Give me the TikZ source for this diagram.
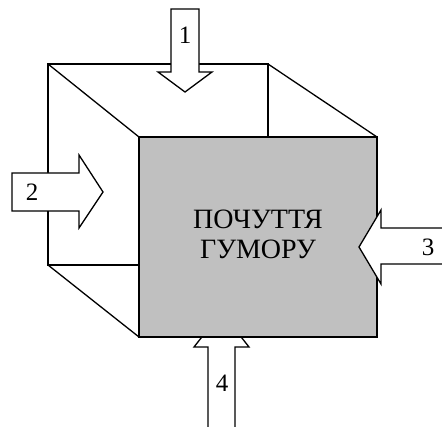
\documentclass[tikz,border=0pt]{standalone}
\usepackage{fontspec}
\setmainfont{Liberation Serif}
\usetikzlibrary{calc, positioning}

\begin{document}
\begin{tikzpicture}[x=1pt, y=-1pt, line width=1.3pt, line join=miter]
				\tikzstyle{face} = [draw=black]
				\tikzstyle{front} = [draw=black, fill={rgb,255:red,192;green,192;blue,192}]
				\tikzstyle{blockarrow} = [draw=black, fill=white]
				\tikzstyle{invis} = [draw=none, font=\fontsize{25}{30}\selectfont]
				
				\useasboundingbox[fill=white] (0,0) rectangle (442,427);
				
				% back face and edges
				\coordinate (b1) at (48,64);
				\coordinate (b2) at (268,64);
				\coordinate (b3) at (268,265);
				\coordinate (b4) at (48,265);
				\coordinate (f1) at (139,137);
				\coordinate (f2) at (377,137);
				\coordinate (f3) at (377,337);
				\coordinate (f4) at (139,337);
				
				\draw[face] (b1) -- (b2) -- (b3) -- (b4) -- cycle;
				\draw[face] (b1) -- (f1);
				\draw[face] (b2) -- (f2);
				\draw[face] (b3) -- (f3);
				\draw[face] (b4) -- (f4);
				
				% arrow 4 (behind the front face)
				\path[blockarrow] (208,440) -- (208,347) -- (194,347) -- (221.5,312)
					-- (249,347) -- (235,347) -- (235,440);
				
				% front face
				\draw[front] (f1) -- (f2) -- (f3) -- (f4) -- cycle;
				
				% arrows 1, 2, 3
				\draw[blockarrow] (171,9) -- (199,9) -- (199,72) -- (212,72) -- (185,92)
					-- (158,72) -- (171,72) -- cycle;
				\draw[blockarrow] (12,173) -- (79,173) -- (79,155) -- (103,192)
					-- (79,228) -- (79,211) -- (12,211) -- cycle;
				\path[blockarrow] (450,228) -- (381,228) -- (381,210) -- (359,247)
					-- (381,284) -- (381,264) -- (450,264);
				
				\node[invis]	at (185,35)		(n1)	{1};
				\node[invis]	at (32,192)		(n2)	{2};
				\node[invis]	at (428,247)	(n3)	{3};
				\node[invis]	at (222,383)	(n4)	{4};
				\node[invis, align=center, font=\fontsize{28}{30}\selectfont]
					at (258,234) (txt) {ПОЧУТТЯ\\ГУМОРУ};
			\end{tikzpicture}
\end{document}
